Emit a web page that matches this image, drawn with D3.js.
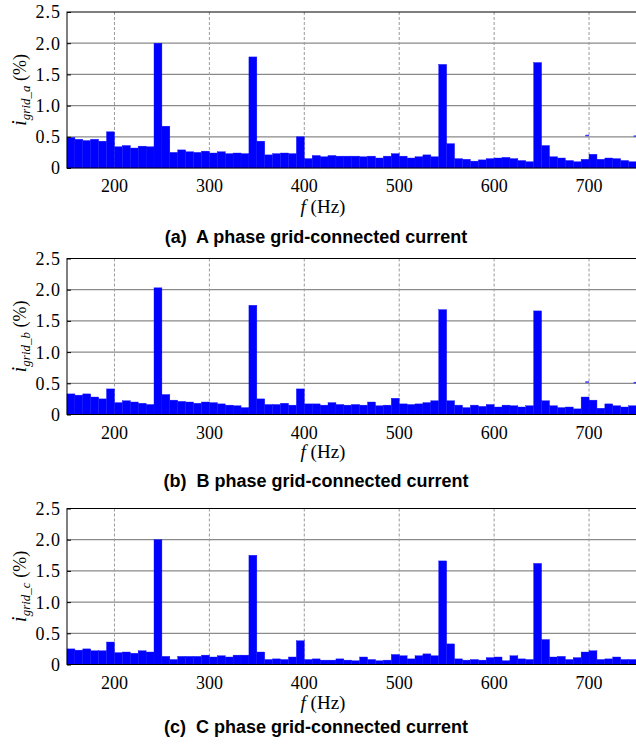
<!DOCTYPE html>
<html>
<head>
<meta charset="utf-8">
<script src="https://cdn.jsdelivr.net/npm/d3@7"></script>
<style>
  body { margin: 0; background: #fff; }
  svg { display: block; }
  text { font-family: "Liberation Serif", "Times New Roman", serif; }
  text.caption { font-family: "Liberation Sans", Arial, sans-serif; white-space: pre; }
</style>
</head>
<body>
<script>
// harmonic spectrum bins: 72 bins of 25/3 Hz between 150 and 750 Hz
const freqRange = [150, 750];
const binCount = 72;
const xTicks = [200, 300, 400, 500, 600, 700];
const yTicks = [0, 0.5, 1.0, 1.5, 2.0, 2.5];
const yTickLabels = ["0", "0.5", "1.0", "1.5", "2.0", "2.5"];

const phaseA = [
  0.49, 0.46, 0.44, 0.46, 0.43, 0.58, 0.34, 0.36, 0.32, 0.35, 0.34, 2.00,
  0.67, 0.25, 0.29, 0.26, 0.25, 0.27, 0.24, 0.26, 0.23, 0.24, 0.23, 1.78,
  0.43, 0.21, 0.23, 0.24, 0.23, 0.50, 0.15, 0.20, 0.18, 0.20, 0.19, 0.19,
  0.19, 0.18, 0.19, 0.16, 0.19, 0.23, 0.19, 0.16, 0.18, 0.21, 0.18, 1.66,
  0.39, 0.15, 0.14, 0.11, 0.13, 0.15, 0.16, 0.17, 0.15, 0.12, 0.10, 1.69,
  0.36, 0.18, 0.16, 0.12, 0.10, 0.14, 0.22, 0.14, 0.16, 0.15, 0.12, 0.10
];
const phaseB = [
  0.33, 0.31, 0.33, 0.28, 0.25, 0.41, 0.19, 0.22, 0.20, 0.18, 0.16, 2.03,
  0.32, 0.23, 0.21, 0.20, 0.18, 0.20, 0.19, 0.17, 0.15, 0.14, 0.11, 1.75,
  0.25, 0.16, 0.16, 0.18, 0.15, 0.41, 0.17, 0.17, 0.15, 0.19, 0.16, 0.15,
  0.16, 0.15, 0.20, 0.14, 0.15, 0.26, 0.17, 0.16, 0.17, 0.19, 0.22, 1.68,
  0.22, 0.15, 0.11, 0.15, 0.13, 0.16, 0.12, 0.15, 0.14, 0.12, 0.14, 1.66,
  0.22, 0.14, 0.11, 0.12, 0.09, 0.28, 0.23, 0.10, 0.17, 0.14, 0.12, 0.14
];
const phaseC = [
  0.25, 0.23, 0.25, 0.22, 0.22, 0.36, 0.19, 0.20, 0.18, 0.22, 0.20, 2.00,
  0.13, 0.08, 0.13, 0.13, 0.13, 0.15, 0.12, 0.14, 0.12, 0.15, 0.15, 1.75,
  0.20, 0.08, 0.09, 0.08, 0.12, 0.38, 0.08, 0.09, 0.07, 0.07, 0.09, 0.07,
  0.06, 0.12, 0.08, 0.06, 0.07, 0.16, 0.14, 0.09, 0.14, 0.17, 0.14, 1.66,
  0.33, 0.09, 0.07, 0.08, 0.07, 0.11, 0.12, 0.06, 0.14, 0.09, 0.08, 1.62,
  0.40, 0.12, 0.13, 0.08, 0.11, 0.20, 0.22, 0.08, 0.09, 0.12, 0.08, 0.08
];
// short stray blue segments seen near 0.5 in panels a and b: [f0, f1, value]
const strayMarks = [[696, 700, 0.52], [747, 750, 0.51]];

const panels = [
  {values: phaseA, sub: "grid_a", title: "(a)  A phase grid-connected current", marks: strayMarks},
  {values: phaseB, sub: "grid_b", title: "(b)  B phase grid-connected current", marks: strayMarks},
  {values: phaseC, sub: "grid_c", title: "(c)  C phase grid-connected current", marks: []}
];

const W = 636, H = 745;
const left = 67, right = 636.5;
const tops = [12, 258.5, 508.5];
const plotH = 156;
const titleY = [243, 487, 733];
const fY = [213, 458, 709];

const svg = d3.select("body").append("svg")
  .attr("width", W).attr("height", H);

const x = d3.scaleLinear().domain(freqRange).range([left, right]);
const xb = d3.scaleBand().domain(d3.range(binCount)).range([left, right]).padding(0);

panels.forEach((p, pi) => {
  const top = tops[pi], bottom = top + plotH;
  const y = d3.scaleLinear().domain([0, 2.5]).range([bottom, top]);
  const g = svg.append("g");

  // horizontal grid
  g.selectAll(".hg").data(yTicks.slice(1, -1)).join("line")
    .attr("x1", left).attr("x2", right)
    .attr("y1", d => y(d)).attr("y2", d => y(d))
    .attr("stroke", "#8a8a8a").attr("stroke-width", 1.3);
  // vertical dashed grid
  g.selectAll(".vg").data(xTicks).join("line")
    .attr("x1", d => x(d)).attr("x2", d => x(d))
    .attr("y1", top).attr("y2", bottom)
    .attr("stroke", "#9a9a9a").attr("stroke-width", 1)
    .attr("stroke-dasharray", "3,2");

  // bars
  g.selectAll(".bar").data(p.values).join("rect")
    .attr("x", (d, i) => xb(i))
    .attr("width", xb.bandwidth())
    .attr("y", d => y(d))
    .attr("height", d => y(0) - y(d))
    .attr("fill", "#0000ff")
    .attr("stroke", "#1010ff").attr("stroke-width", 0.4);

  g.selectAll(".mark").data(p.marks).join("line")
    .attr("x1", d => x(d[0])).attr("x2", d => x(d[1]))
    .attr("y1", d => y(d[2])).attr("y2", d => y(d[2]))
    .attr("stroke", "#3b3bff").attr("stroke-width", 1.5);

  // frame and inward ticks
  g.append("rect").attr("x", left).attr("y", top)
    .attr("width", right - left).attr("height", plotH)
    .attr("fill", "none").attr("stroke", "#000").attr("stroke-width", 1);
  g.append("g").attr("transform", `translate(${right},0)`)
    .call(d3.axisLeft(y).tickValues(yTicks).tickSize(-4).tickFormat(""))
    .call(a => a.select(".domain").remove());
  g.append("g").attr("transform", `translate(${left},0)`)
    .call(d3.axisRight(y).tickValues(yTicks).tickSize(4).tickFormat(""))
    .call(a => a.select(".domain").remove());

  // tick labels
  g.selectAll(".yl").data(yTicks).join("text")
    .attr("x", left - 6).attr("y", d => y(d))
    .attr("dy", "0.36em").attr("text-anchor", "end")
    .attr("font-size", 18).attr("letter-spacing", 1)
    .text((d, i) => yTickLabels[i]);
  g.selectAll(".xl").data(xTicks).join("text")
    .attr("x", d => x(d)).attr("y", bottom + 24)
    .attr("text-anchor", "middle")
    .attr("font-size", 18).text(d => d);

  // x label
  const fl = g.append("text").attr("x", 323).attr("y", fY[pi])
    .attr("text-anchor", "middle").attr("font-size", 19);
  fl.append("tspan").attr("font-style", "italic").text("f");
  fl.append("tspan").text(" (Hz)");

  // y label
  const cy = (top + bottom) / 2;
  const yl = g.append("text")
    .attr("transform", `translate(26,${cy}) rotate(-90)`)
    .attr("text-anchor", "middle").attr("font-size", 18);
  yl.append("tspan").attr("font-style", "italic").attr("font-size", 21).text("i");
  yl.append("tspan").attr("font-style", "italic").attr("font-size", 13)
    .attr("dy", 4).text(p.sub);
  yl.append("tspan").attr("dy", -4).text(" (%)");

  // caption
  svg.append("text").attr("class", "caption")
    .attr("x", 316).attr("y", titleY[pi])
    .attr("text-anchor", "middle")
    .attr("font-weight", "bold").attr("font-size", 18)
    .text(p.title);
});
</script>
</body>
</html>
